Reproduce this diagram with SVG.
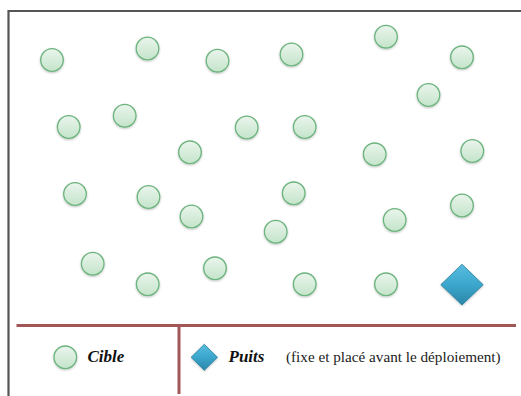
<svg xmlns="http://www.w3.org/2000/svg" width="521" height="396" viewBox="0 0 521 396">
<defs>
<linearGradient id="gc" x1="0" y1="0" x2="0" y2="1">
<stop offset="0" stop-color="#eaf5ec"/>
<stop offset="1" stop-color="#c4e4ca"/>
</linearGradient>
<linearGradient id="gd" x1="0" y1="0" x2="0" y2="1">
<stop offset="0" stop-color="#58bde0"/>
<stop offset="0.5" stop-color="#3ca6cc"/>
<stop offset="1" stop-color="#2a86a8"/>
</linearGradient>
<filter id="sh" x="-30%" y="-30%" width="160%" height="170%">
<feGaussianBlur in="SourceAlpha" stdDeviation="1"/>
<feOffset dy="1.2"/>
<feComponentTransfer><feFuncA type="linear" slope="0.25"/></feComponentTransfer>
<feMerge><feMergeNode/><feMergeNode in="SourceGraphic"/></feMerge>
</filter>
<circle id="c" r="11.3" fill="url(#gc)" stroke="#6cb47e" stroke-width="1.3"/>
</defs>
<style>
.frame{fill:none;stroke:#555;stroke-width:2.2}
.sep{stroke:#a35656;stroke-width:3;fill:none}
.lbl{font-family:"Liberation Serif",serif;font-weight:bold;font-style:italic;font-size:17px;fill:#111}
.note{font-family:"Liberation Serif",serif;font-size:15.2px;fill:#222}
.dia{fill:url(#gd);stroke:#2a7f9e;stroke-width:0.8}
</style>
<rect width="521" height="396" fill="#fff"/>
<path class="frame" d="M8.5,396 V11 H521"/>
<g id="connectors">
<line class="sep" x1="16.5" y1="325.5" x2="516" y2="325.5"/>
<line class="sep" x1="179" y1="325" x2="179" y2="394" stroke-width="2.6"/>
</g>
<g id="targets" filter="url(#sh)">
<use href="#c" x="52" y="60"/>
<use href="#c" x="147.5" y="48.5"/>
<use href="#c" x="217.5" y="60.7"/>
<use href="#c" x="291.5" y="54.5"/>
<use href="#c" x="386" y="36.7"/>
<use href="#c" x="462" y="57.3"/>
<use href="#c" x="428.5" y="95"/>
<use href="#c" x="68.7" y="127"/>
<use href="#c" x="124.7" y="115.7"/>
<use href="#c" x="190" y="152.3"/>
<use href="#c" x="246.7" y="127.5"/>
<use href="#c" x="304.7" y="127"/>
<use href="#c" x="374.7" y="154.3"/>
<use href="#c" x="472.3" y="151"/>
<use href="#c" x="75" y="194"/>
<use href="#c" x="148.5" y="197"/>
<use href="#c" x="191.5" y="216.5"/>
<use href="#c" x="293.7" y="193.3"/>
<use href="#c" x="275.7" y="231.7"/>
<use href="#c" x="394.7" y="220"/>
<use href="#c" x="462" y="205.5"/>
<use href="#c" x="92.7" y="263.7"/>
<use href="#c" x="147.7" y="284.3"/>
<use href="#c" x="215" y="268.3"/>
<use href="#c" x="304.7" y="284.3"/>
<use href="#c" x="386" y="284.3"/>
</g>
<g id="sink" filter="url(#sh)">
<polygon class="dia" points="462,264.3 483.2,284.7 462,305 440.8,284.7"/>
</g>
<g id="legend-cible">
<use href="#c" x="65.3" y="357.3" filter="url(#sh)"/>
<text class="lbl" x="87.5" y="362">Cible</text>
</g>
<g id="legend-puits">
<polygon class="dia" points="204.3,344.3 217.5,357.3 204.3,370.3 191.1,357.3" filter="url(#sh)"/>
<text class="lbl" x="228.5" y="362">Puits</text>
<text class="note" x="286" y="362">(fixe et placé avant le déploiement)</text>
</g>
</svg>
